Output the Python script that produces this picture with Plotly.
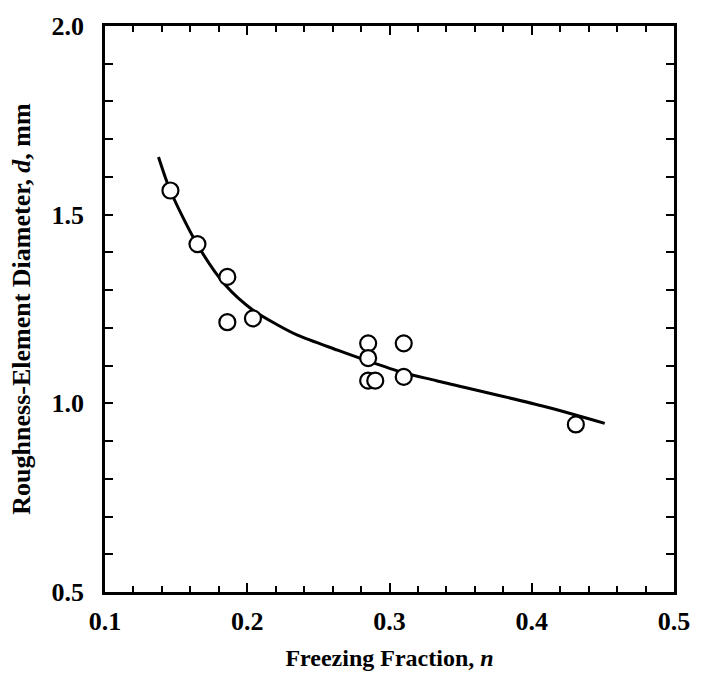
import plotly.graph_objects as go

# Measured data points
n_pts = [0.146, 0.165, 0.186, 0.186, 0.204, 0.285, 0.285, 0.285, 0.290, 0.310, 0.310, 0.431]
d_pts = [1.564, 1.422, 1.335, 1.215, 1.225, 1.159, 1.120, 1.060, 1.060, 1.159, 1.070, 0.944]

# Fitted curve
n_fit = [0.1376, 0.1459, 0.1647, 0.1849, 0.2043, 0.2217, 0.2357, 0.2635, 0.2850, 0.3101, 0.3330, 0.4096, 0.4513]
d_fit = [1.653, 1.564, 1.422, 1.312, 1.246, 1.207, 1.180, 1.141, 1.112, 1.081, 1.060, 0.991, 0.947]

x_ticks = [0.1, 0.2, 0.3, 0.4, 0.5]
y_ticks = [0.5, 1.0, 1.5, 2.0]

font = "Liberation Serif, Times New Roman, serif"

fig = go.Figure()
fig.add_trace(go.Scatter(x=n_fit, y=d_fit, mode="lines",
                         line=dict(color="black", width=3, shape="spline", smoothing=0.8),
                         hoverinfo="skip", showlegend=False))
fig.add_trace(go.Scatter(x=n_pts, y=d_pts, mode="markers",
                         marker=dict(symbol="circle", size=16, color="white",
                                     line=dict(color="black", width=2.2)),
                         showlegend=False))

fig.update_layout(
    width=702, height=690,
    margin=dict(l=105, r=22, t=21, b=98),
    paper_bgcolor="white", plot_bgcolor="white",
    font=dict(family=font, color="black", size=26),
    xaxis=dict(range=[0.1, 0.5], tickvals=x_ticks,
               ticktext=[f"<b>{v:.1f}</b>" for v in x_ticks],
               ticks="inside", ticklen=9, tickwidth=2, tickcolor="black",
               minor=dict(dtick=0.02, ticks="inside", ticklen=6, tickwidth=2, tickcolor="black"),
               showline=True, linecolor="black", linewidth=2.5, mirror="allticks",
               showgrid=False, zeroline=False, ticklabelstandoff=4,
               title=dict(text="<b>Freezing Fraction, <i>n</i></b>", font=dict(size=24), standoff=15)),
    yaxis=dict(range=[0.5, 2.0], tickvals=y_ticks,
               ticktext=[f"<b>{v:.1f}</b>" for v in y_ticks],
               ticks="inside", ticklen=8, tickwidth=2, tickcolor="black",
               minor=dict(dtick=0.1, ticks="inside", ticklen=8, tickwidth=2, tickcolor="black"),
               showline=True, linecolor="black", linewidth=2.5, mirror="allticks",
               showgrid=False, zeroline=False, ticklabelstandoff=13,
               title=dict(text="<b>Roughness-Element Diameter, <i>d</i>, mm</b>", font=dict(size=26), standoff=14)),
)

fig.write_html("out.html")
